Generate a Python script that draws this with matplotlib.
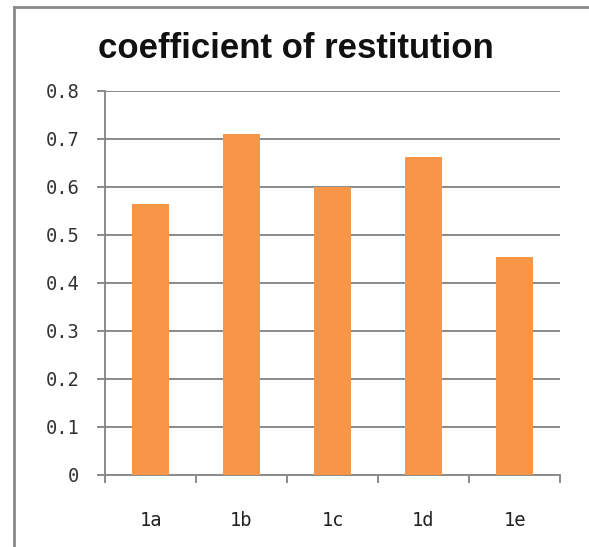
import matplotlib
matplotlib.use("Agg")
import matplotlib.pyplot as plt
from matplotlib.lines import Line2D

categories = ["1a", "1b", "1c", "1d", "1e"]
values = [0.564, 0.710, 0.600, 0.663, 0.455]
yticks = [0, 0.1, 0.2, 0.3, 0.4, 0.5, 0.6, 0.7, 0.8]
ytick_labels = ["0", "0.1", "0.2", "0.3", "0.4", "0.5", "0.6", "0.7", "0.8"]
title = "coefficient of restitution"

W, H = 589, 547
fig = plt.figure(figsize=(W / 100, H / 100), dpi=100)
fig.patch.set_facecolor("white")

axis_grey = "#8a8a8a"
bar_orange = "#F79646"
label_font = "DejaVu Sans Mono"

ax = fig.add_axes([105 / W, 1 - 475 / H, (560 - 105) / W, (475 - 91) / H])
x = list(range(len(categories)))
ax.bar(x, values, width=0.4, color=bar_orange, zorder=3)

ax.set_xlim(-0.5, len(categories) - 0.5)
ax.set_ylim(0, 0.8)
ax.set_yticks(yticks)
ax.set_yticklabels(ytick_labels)
ax.set_xticks(x)
ax.set_xticklabels(categories)
ax.set_xticks([i - 0.5 for i in range(len(categories) + 1)], minor=True)

ax.yaxis.grid(True, color=axis_grey, linewidth=1.4, zorder=1)
ax.set_axisbelow(True)

for side in ["top", "right"]:
    ax.spines[side].set_visible(False)
for side in ["left", "bottom"]:
    ax.spines[side].set_color(axis_grey)
    ax.spines[side].set_linewidth(1.4)

ax.tick_params(axis="y", direction="out", length=6, width=1.4, color=axis_grey, pad=12.5)
ax.tick_params(axis="x", which="major", length=0, pad=26)
ax.tick_params(axis="x", which="minor", direction="out", length=6, width=1.4,
               color=axis_grey)

plt.setp(ax.get_yticklabels(), fontfamily=label_font, fontsize=13.5, color="#333333")
plt.setp(ax.get_xticklabels(), fontfamily=label_font, fontsize=13.5, color="#222222")

fig.text(296 / W, 1 - 49 / H, title, ha="center", va="center",
         fontsize=25, fontweight="bold", family="Liberation Sans", color="#111111")

# chart frame: top and left edges
fig.add_artist(Line2D([14 / W, 1.0], [1 - 7 / H, 1 - 7 / H], transform=fig.transFigure,
                      color=axis_grey, linewidth=2))
fig.add_artist(Line2D([14 / W, 14 / W], [0.0, 1 - 7 / H], transform=fig.transFigure,
                      color=axis_grey, linewidth=2))

fig.savefig("out.png", dpi=100)
